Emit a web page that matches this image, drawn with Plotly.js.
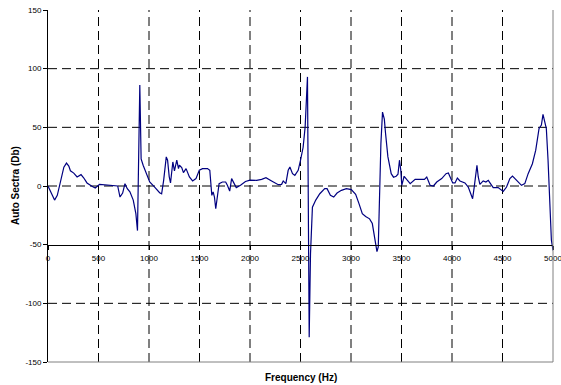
<!DOCTYPE html>
<html>
<head>
<meta charset="utf-8">
<script src="https://cdn.plot.ly/plotly-3.0.1.min.js"></script>
<style>html,body{margin:0;padding:0;background:#fff;}#chart{width:561px;height:385px;}</style>
</head>
<body>
<div id="chart"></div>
<script>
var freqHz = [0,30,65,92,124,157,183,206,222,255,288,327,353,386,435,468,510,549,615,664,690,713,739,762,785,811,844,870,886,909,922,942,974,1007,1056,1105,1125,1145,1171,1184,1200,1213,1236,1252,1275,1292,1301,1324,1341,1367,1400,1432,1465,1498,1530,1579,1602,1622,1635,1648,1661,1678,1694,1727,1759,1776,1799,1818,1841,1864,1906,1955,2000,2066,2115,2158,2214,2280,2313,2329,2355,2378,2395,2421,2444,2477,2500,2526,2546,2559,2569,2586,2599,2618,2651,2691,2740,2763,2796,2829,2862,2905,2954,3003,3046,3079,3112,3145,3184,3211,3234,3257,3270,3296,3312,3330,3342,3365,3398,3421,3447,3465,3480,3493,3503,3526,3553,3586,3635,3684,3727,3750,3783,3816,3849,3898,3941,3964,3987,4007,4030,4053,4079,4128,4161,4184,4204,4220,4237,4247,4260,4276,4309,4336,4359,4385,4408,4457,4507,4540,4573,4599,4638,4688,4721,4754,4796,4829,4862,4885,4901,4918,4934,4951,4967,4984,5000];
var autoSpectraDb = [0,-5,-12,-8,3,16,19.5,17,13,11,7.7,9.7,7,2.6,-0.3,-1.7,1.4,1.1,0.6,-0.3,0,-9.4,-6,2,-2.3,-5,-12,-23.6,-38,86,23,17.7,10.5,3.4,-0.9,-5.7,-6.6,4.8,24.8,22,8,2.6,20.5,12.8,22,14.8,17.7,15.7,11.4,14.8,7.7,4.3,6.3,13.4,14.8,14.8,13.4,-8,-5,-9.4,-19.4,-6.6,2,3.4,3.4,0.6,-4.3,6.3,2,-1.4,0.6,3.8,5,4.8,5.7,7.1,4.3,1.1,1.4,4.3,2,13.4,16.2,10.5,9.1,13.4,21.9,33,50.4,73,93,-129,-58,-18,-12,-6.6,-2.3,-2.3,-8,-9.4,-6,-3.7,-2.3,-3.1,-7.1,-15,-23.6,-26,-28,-32,-46,-56,-52,36,63,57,45,25,10.5,7.5,8.3,10,22,13.4,0.6,8.3,5.4,2,5.7,5.7,5.7,7.7,0.6,0,3.4,6.3,10.5,11.1,6.3,2.6,2.6,6.8,4.3,2.6,-0.9,-6,-10.8,-0.9,10.5,17.7,7.7,1.4,4.3,3.4,4.8,1.4,-1.4,-1.4,-4.6,-0.9,6.3,8.5,4.8,0.6,2,10.5,19,30.5,49,52,61,55,49,22,-18,-46,-55];
var xTickVals = [0,500,1000,1500,2000,2500,3000,3500,4000,4500,5000];
var xTickText = ['0','500','1000','1500','2000','2500','3000','3500','4000','4500','5000'];
var yTickVals = [-150,-100,-50,0,50,100,150];
var yTickText = ['-150','-100','-50','0','50','100','150'];
var xGridVals = [500,1000,1500,2000,2500,3000,3500,4000,4500];
var yGridVals = [-100,0,50,100];
var xTitle = 'Frequency (Hz)';
var yTitle = 'Auto Sectra (Db)';

var trace = {
  x: freqHz, y: autoSpectraDb, type: 'scatter', mode: 'lines',
  line: {color: '#000080', width: 1.2}, hoverinfo: 'skip'
};
var font = {family: 'Liberation Sans, Arial, sans-serif', size: 8, color: '#000'};
var gridLine = {color: '#000', width: 1, dash: '9px,5px'};
var shapes = [];
xGridVals.forEach(function (v) {
  shapes.push({type: 'line', layer: 'below', xref: 'x', yref: 'paper', x0: v, x1: v, y0: 0, y1: 1, line: gridLine});
});
yGridVals.forEach(function (v) {
  shapes.push({type: 'line', layer: 'below', xref: 'paper', yref: 'y', x0: 0, x1: 1, y0: v, y1: v, line: gridLine});
});
shapes.push({type: 'line', xref: 'paper', yref: 'paper', x0: 1, x1: 1, y0: 0, y1: 1, line: {color: '#808080', width: 1}});
shapes.push({type: 'line', xref: 'paper', yref: 'paper', x0: 0, x1: 1, y0: 0, y1: 0, line: {color: '#808080', width: 1}});

var layout = {
  width: 561, height: 385,
  margin: {l: 48, r: 8, t: 9.5, b: 23, pad: 0},
  paper_bgcolor: '#fff', plot_bgcolor: '#fff',
  showlegend: false,
  font: font,
  xaxis: {
    range: [0, 5000], tickvals: xTickVals, ticktext: xTickText,
    anchor: 'free', position: 1/3,
    showline: true, linecolor: '#000', linewidth: 1,
    ticks: 'outside', ticklen: 4, tickcolor: '#000', tickwidth: 1,
    ticklabelstandoff: 2, ticklabeloverflow: 'allow',
    showgrid: false, zeroline: false, tickfont: font, fixedrange: true
  },
  yaxis: {
    range: [-150, 150], tickvals: yTickVals, ticktext: yTickText,
    showline: true, linecolor: '#000', linewidth: 1,
    ticks: 'outside', ticklen: 4, tickcolor: '#000', tickwidth: 1,
    showgrid: false, zeroline: false, tickfont: font, fixedrange: true
  },
  shapes: shapes,
  annotations: [
    {text: '<b>' + xTitle + '</b>', xref: 'paper', yref: 'paper', x: 0.5, y: 0, yshift: -15, showarrow: false,
     xanchor: 'center', yanchor: 'middle', font: {family: 'Liberation Sans, Arial, sans-serif', size: 10, color: '#000'}},
    {text: '<b>' + yTitle + '</b>', xref: 'paper', yref: 'paper', x: 0, y: 0.5, xshift: -33, showarrow: false,
     textangle: -90, xanchor: 'center', yanchor: 'middle', font: {family: 'Liberation Sans, Arial, sans-serif', size: 10, color: '#000'}}
  ]
};
Plotly.newPlot('chart', [trace], layout, {displayModeBar: false, staticPlot: true});
</script>
</body>
</html>
